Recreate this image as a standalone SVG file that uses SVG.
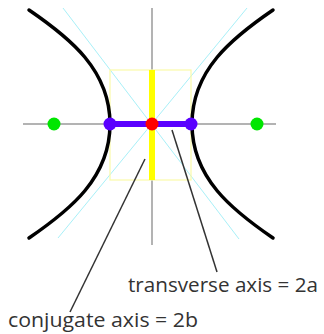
<svg xmlns="http://www.w3.org/2000/svg" width="324" height="334" viewBox="0 0 324 334">
<style>
.axis{stroke:#b3b3b3;stroke-width:2;fill:none}
.asym{stroke:#a8f0f8;stroke-width:1;fill:none}
.box{stroke:#fbfba8;stroke-width:1.2;fill:none}
.curve{stroke:#000;stroke-width:3.5;fill:none;stroke-linecap:round}
.leader{stroke:#333;stroke-width:1.5;fill:none}
.lbl{font-family:"Open Sans","Noto Sans",sans-serif;font-size:20px;fill:#333}
</style>
<rect width="324" height="334" fill="#fff"/>
<g id="axes">
<line class="axis" x1="152" y1="8" x2="152" y2="245"/>
<line class="axis" x1="23" y1="124" x2="276" y2="124"/>
</g>
<g id="asymptotes">
<line class="asym" x1="63" y1="8" x2="239" y2="239"/>
<line class="asym" x1="247" y1="8" x2="58" y2="238"/>
</g>
<g id="box">
<rect class="box" x="110" y="70" width="81" height="110"/>
</g>
<g id="hyperbola">
<path class="curve" d="M29,10 C70,38 110,70 110,124 C110,178 70,210 29,238"/>
<path class="curve" d="M273,10 C232,38 192,70 192,124 C192,178 232,210 273,238"/>
</g>
<g id="conjugate-axis">
<line x1="152" y1="70" x2="152" y2="180" stroke="#ffff00" stroke-width="6"/>
</g>
<g id="transverse-axis">
<line x1="110" y1="124" x2="191" y2="124" stroke="#5a00ff" stroke-width="6"/>
</g>
<g id="points">
<circle cx="54" cy="124" r="6.5" fill="#00e600"/>
<circle cx="257" cy="124" r="6.5" fill="#00e600"/>
<circle cx="110" cy="124" r="6.5" fill="#5a00ff"/>
<circle cx="191" cy="124" r="6.5" fill="#5a00ff"/>
<circle cx="152" cy="124" r="6.5" fill="#ff0000"/>
</g>
<g id="connectors">
<line class="leader" x1="172" y1="130" x2="217" y2="272"/>
<line class="leader" x1="145" y1="159" x2="70" y2="312"/>
</g>
<g id="label-transverse">
<text class="lbl" x="128" y="292" textLength="190" lengthAdjust="spacingAndGlyphs">transverse axis = 2a</text>
</g>
<g id="label-conjugate">
<text class="lbl" x="8" y="327" textLength="190" lengthAdjust="spacingAndGlyphs">conjugate axis = 2b</text>
</g>
</svg>
